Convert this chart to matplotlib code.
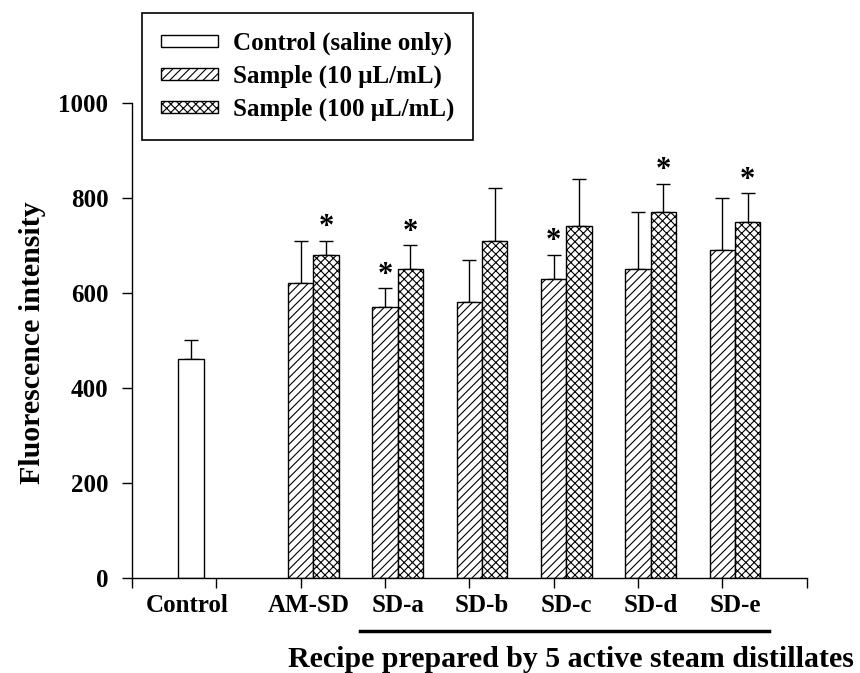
import matplotlib.pyplot as plt
from matplotlib.patches import Patch

plt.rcParams['font.family'] = ['Liberation Serif', 'DejaVu Serif']
plt.rcParams['font.weight'] = 'bold'
plt.rcParams['hatch.linewidth'] = 0.8

# data
groups = ['Control', 'AM-SD', 'SD-a', 'SD-b', 'SD-c', 'SD-d', 'SD-e']
control_mean = [460]
control_err = [40]
low_mean = [620, 570, 580, 630, 650, 690]     # 10 uL/mL
low_err = [90, 40, 90, 50, 120, 110]
high_mean = [680, 650, 710, 740, 770, 750]    # 100 uL/mL
high_err = [30, 50, 110, 100, 60, 60]
low_star = [False, True, False, True, False, False]
high_star = [True, True, False, False, True, True]

w = 0.3
fig = plt.figure(figsize=(8.6, 6.73), dpi=100)
ax = fig.add_axes([0.1535, 0.1412, 0.7845, 0.7058])

xc = [1 - w]
xs = list(range(2, 8))
xh = [x + w for x in xs]

ax.bar(xc, control_mean, w, color='white', edgecolor='black', linewidth=1.0, zorder=2)
ax.bar(xs, low_mean, w, color='white', edgecolor='black', hatch='////', linewidth=1.0, zorder=2)
ax.bar(xh, high_mean, w, color='white', edgecolor='black', hatch='xxxx', linewidth=1.0, zorder=2)

for x, m, e in [(xc, control_mean, control_err), (xs, low_mean, low_err), (xh, high_mean, high_err)]:
    ax.errorbar(x, m, yerr=[[0] * len(e), e], fmt='none', ecolor='black',
                elinewidth=1.0, capsize=4.7, capthick=1.0, zorder=1)

for x, m, e, s in list(zip(xs, low_mean, low_err, low_star)) + list(zip(xh, high_mean, high_err, high_star)):
    if s:
        ax.annotate('*', (x, m + e), xytext=(0, 4), textcoords='offset points',
                    ha='center', va='baseline', fontsize=22, fontweight='bold')

ax.set_xlim(0, 8)
ax.set_ylim(0, 1000)
ax.set_xticks(range(9))
ax.set_xticklabels([])
ax.set_yticks(range(0, 1001, 200))
ax.tick_params(axis='both', direction='out', length=7, width=1.0, labelsize=18, pad=10)
for s in ['top', 'right']:
    ax.spines[s].set_visible(False)
for s in ['left', 'bottom']:
    ax.spines[s].set_linewidth(1.0)

label_x = [0.65, 2.1, 3.15, 4.15, 5.15, 6.15, 7.15]
for lx, g in zip(label_x, groups):
    ax.text(lx, -0.0716, g, transform=ax.get_xaxis_transform(), ha='center',
            va='baseline', fontsize=18, fontweight='bold')

ax.plot([2.7, 7.55], [-0.112, -0.112], color='black', linewidth=2.5,
        transform=ax.get_xaxis_transform(), clip_on=False)
ax.text(5.2, -0.187, 'Recipe prepared by 5 active steam distillates',
        transform=ax.get_xaxis_transform(), ha='center', va='baseline',
        fontsize=21.5, fontweight='bold')
ax.text(-0.148, 0.495, 'Fluorescence intensity', transform=ax.transAxes,
        rotation=90, ha='center', va='center', fontsize=21.5, fontweight='bold')

handles = [Patch(facecolor='white', edgecolor='black', linewidth=1.0),
           Patch(facecolor='white', edgecolor='black', hatch='////', linewidth=1.0),
           Patch(facecolor='white', edgecolor='black', hatch='xxxx', linewidth=1.0)]
labels = ['Control (saline only)', 'Sample (10 \u03bcL/mL)', 'Sample (100 \u03bcL/mL)']
leg = fig.legend(handles, labels, loc='upper left', bbox_to_anchor=(142 / 860, 1 - 13 / 673),
                 borderaxespad=0, fontsize=18, handlelength=2.3, handleheight=0.36,
                 handletextpad=0.6, labelspacing=0.38, borderpad=0.75, fancybox=False,
                 framealpha=1, edgecolor='black')
leg.get_frame().set_linewidth(1.2)

fig.savefig('out.png', dpi=100)
